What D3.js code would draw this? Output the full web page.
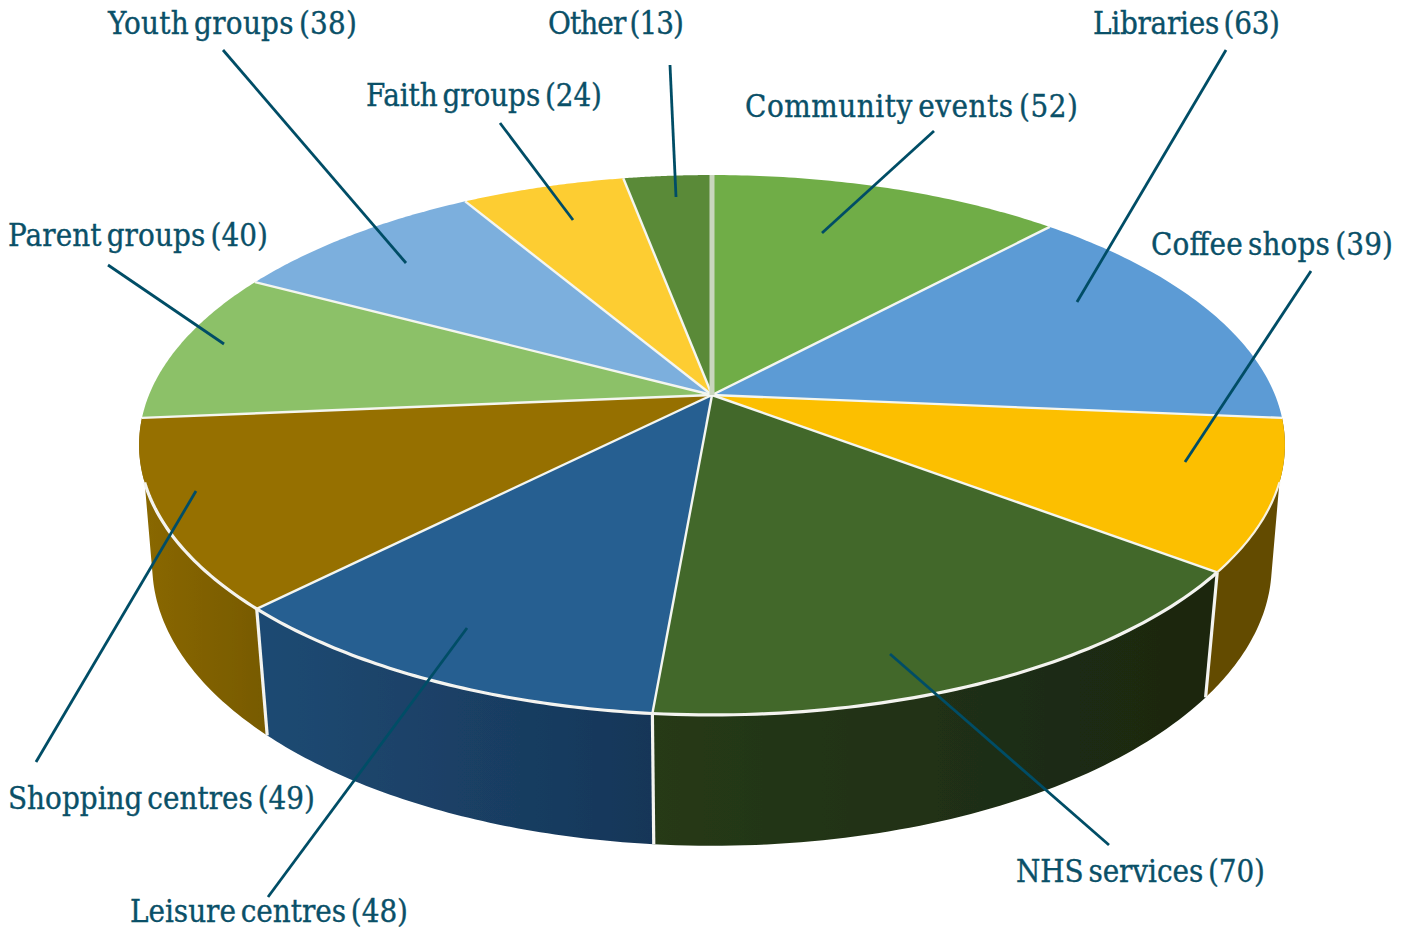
<!DOCTYPE html>
<html><head><meta charset="utf-8">
<script src="https://cdn.jsdelivr.net/npm/d3@7"></script>
<style>html,body{margin:0;padding:0;background:#fff;overflow:hidden}svg{display:block}
text{font-family:"DejaVu Serif Condensed","DejaVu Serif",serif;font-size:31px;fill:#0a5068;stroke:#0a5068;stroke-width:.35px;word-spacing:-4px}</style>
</head><body><svg id="c" width="1413" height="928"></svg>
<script>
const categories=["Community events","Libraries","Coffee shops","NHS services","Leisure centres","Shopping centres","Parent groups","Youth groups","Faith groups","Other"];
const values=[52,63,39,70,48,49,40,38,24,13];
const topColors=["#70ad47","#5b9bd5","#fcbf00","#43682b","#255e91","#967000","#8cc168","#7cafdd","#fdcd33","#5a8a39"];
const wallStart=["#4a7330","#3d688f","#644b00","#263a18","#1d4a73","#8a6800","#5d8145","#527594","#aa8922","#3c5c26"];
const wallEnd=["#4a7330","#3d688f","#644b00","#1a2610","#173658","#775a00","#5d8145","#527594","#aa8922","#3c5c26"];
// annotation layout: label left x, baseline y, fitted width, leader line ends
const labelLayout={
"Community events":{x:745,y:117,w:333,l:[934,131,822,233]},
"Libraries":{x:1093,y:34,w:187,l:[1226,50,1077,302]},
"Coffee shops":{x:1151,y:255,w:242,l:[1311,271,1185,462]},
"NHS services":{x:1016,y:882,w:249,l:[1109,845,890,654]},
"Leisure centres":{x:130,y:922,w:278,l:[268,897,467,628]},
"Shopping centres":{x:8,y:809,w:307,l:[36,762,196,491]},
"Parent groups":{x:8,y:246,w:260,l:[108,265,224,344]},
"Youth groups":{x:108,y:34,w:249,l:[223,50,406,263]},
"Faith groups":{x:366,y:106,w:236,l:[500,123,573,220]},
"Other":{x:548,y:34,w:136,l:[670,65,676,197]}
};
const shoulderY=483, hullY=575;
const svg=d3.select("#c");
const defs=svg.append("defs");
defs.append("filter").attr("id","soft").attr("x","-5%").attr("y","-5%").attr("width","110%").attr("height","110%")
  .append("feGaussianBlur").attr("stdDeviation",0.7);
const cx=712,cy=395,C=563,A=260.7,B=0.1852;
const unit=d3.scaleLinear().domain([0,1]).range([0,1]);
function discPoint(theta,r=1){const k=unit(r),s=-Math.cos(theta)*k,c=Math.sin(theta)*k,d=1-B*s;return [C*c/d,A*s/d];}
const projT=(t,r=1)=>{const p=discPoint(t,r);return [cx+p[0],cy+p[1]];};
const projB=(t,r=1)=>{const p=discPoint(t,r);return [cx+0.977*p[0],cy+1.04*p[1]+118];};
const arcs=d3.pie().sort(null).value(d=>d)(values);
const line=d3.line();
const steps=a=>d3.range(0,61).map(i=>a.startAngle+(a.endAngle-a.startAngle)*i/60);
const shoulderAngle=a=>d3.least(steps(a),t=>Math.abs(projT(t)[1]-shoulderY));
const coffeeShoulder=shoulderAngle(arcs[2]), shopShoulder=shoulderAngle(arcs[5]);
const g=svg.append("g").attr("filter","url(#soft)");
// walls
[2,5,3,4].forEach(i=>{
  const a=arcs[i],ts=steps(a);
  const upper=ts.map(t=>projT(t));
  let lower=ts.slice().reverse().map(t=>projB(t));
  // the wall silhouette runs straight from the lower rim up to the tangent on the top rim
  if(i===2) lower=lower.filter(p=>p[1]>=hullY).concat([projT(coffeeShoulder)]);
  if(i===5) lower=[projT(shopShoulder)].concat(lower.filter(p=>p[1]>=hullY));
  const poly=upper.concat(lower);
  const xs=poly.map(p=>p[0]);
  const id="w"+i;
  const lg=defs.append("linearGradient").attr("id",id).attr("gradientUnits","userSpaceOnUse")
    .attr("x1",d3.min(xs)).attr("x2",d3.max(xs)).attr("y1",0).attr("y2",0);
  lg.append("stop").attr("offset",0).attr("stop-color",wallStart[i]);
  lg.append("stop").attr("offset",1).attr("stop-color",wallEnd[i]);
  g.append("path").attr("d",line(poly)+"Z").attr("fill",`url(#${id})`);
});
// wall seams
[3,4,5].forEach(i=>{
  const t=arcs[i].startAngle;
  g.append("path").attr("d",line([projT(t),projB(t)])).attr("stroke","#f4f4f0").attr("stroke-width",3.2).attr("fill","none");
});
// top faces
g.selectAll("path.face").data(arcs).join("path").attr("class","face")
  .attr("d",a=>line([projT(0,0)].concat(steps(a).map(t=>projT(t))))+"Z")
  .attr("fill",(a,i)=>topColors[i]);
// radial edges
g.selectAll("path.edge").data(arcs.slice(1)).join("path").attr("class","edge")
  .attr("d",a=>line([projT(0,0),projT(a.startAngle)]))
  .attr("stroke","#f4f6f0").attr("stroke-width",2.4).attr("fill","none");
// rim highlight on the front-facing part of the disc
[3,4,5].forEach(i=>{
  g.append("path").attr("d",line(steps(arcs[i]).filter(t=>i<5||t<=shopShoulder).map(t=>projT(t))))
   .attr("stroke","#f4f4f0").attr("stroke-width",3.2).attr("fill","none");
});
g.append("path").attr("d",line(steps(arcs[2]).filter(t=>t>=coffeeShoulder).map(t=>projT(t))))
   .attr("stroke","#f6f2e0").attr("stroke-width",2.2).attr("fill","none");
// pale seam at twelve o'clock
g.append("path").attr("d",line([projT(0,0),projT(0)])).attr("stroke","#c9d6bd").attr("stroke-width",5).attr("fill","none");
// leaders
svg.selectAll("path.leader").data(categories).join("path").attr("class","leader")
  .attr("d",c=>{const l=labelLayout[c].l;return line([[l[0],l[1]],[l[2],l[3]]]);})
  .attr("stroke","#004d66").attr("stroke-width",2.8).attr("fill","none");
// labels
svg.selectAll("text.lab").data(categories).join("text").attr("class","lab")
  .attr("x",c=>labelLayout[c].x).attr("y",c=>labelLayout[c].y)
  .attr("textLength",c=>labelLayout[c].w).attr("lengthAdjust","spacing")
  .text((c,i)=>`${c} (${values[i]})`);
</script></body></html>
